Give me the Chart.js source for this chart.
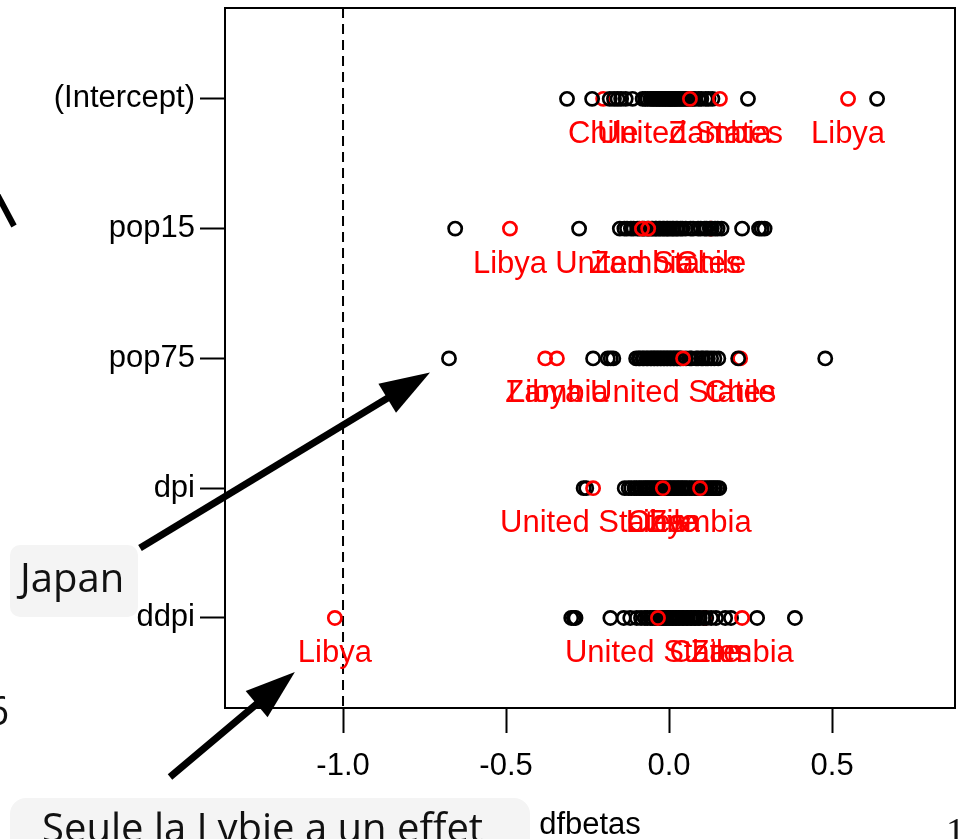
<!DOCTYPE html>
<html>
<head>
<meta charset="utf-8">
<title>dfbetas</title>
<script src="https://cdn.jsdelivr.net/npm/chart.js@4/dist/chart.umd.min.js"></script>
<style>
  html, body { margin: 0; padding: 0; background: #ffffff; }
  #wrap { width: 960px; height: 839px; position: relative; overflow: hidden; }
</style>
</head>
<body>
<div id="wrap"><canvas id="c" width="960" height="839"></canvas></div>
<script>
// Coefficients of the savings-rate model, top to bottom
const coefNames = ['(Intercept)', 'pop15', 'pop75', 'dpi', 'ddpi'];
const xTicks = [-1.0, -0.5, 0.0, 0.5];
const cutoff = -1.0;

// Highlighted countries (one value per coefficient, same order as coefNames)
const labelledCountries = ['Chile', 'United States', 'Zambia', 'Libya'];
const chileDfb  = [-0.202,  0.128,  0.218, -0.021,  0.110];
const usDfb     = [ 0.064, -0.064,  0.043, -0.233, -0.034];
const zambiaDfb = [ 0.156, -0.083, -0.344,  0.095,  0.224];
const libyaDfb  = [ 0.549, -0.488, -0.380, -0.019, -1.025];

// Japan stands out on pop75
const japanPop75 = -0.675;

// Remaining countries, per coefficient
const interceptOthers = [-0.313, -0.236, -0.182, -0.169, -0.158, -0.147, -0.133, -0.112, -0.081, -0.073,
  -0.066, -0.057, -0.052, -0.047, -0.040, -0.037, -0.030, -0.028, -0.021, -0.018, -0.012, -0.009,
  -0.003, 0.001, 0.004, 0.009, 0.011, 0.017, 0.021, 0.024, 0.031, 0.034, 0.041, 0.045, 0.053,
  0.057, 0.065, 0.072, 0.079, 0.091, 0.099, 0.112, 0.121, 0.133, 0.242, 0.638];
const pop15Others = [-0.656, -0.276, -0.151, -0.137, -0.129, -0.117, -0.109, -0.097, -0.091, -0.081,
  -0.076, -0.067, -0.062, -0.054, -0.050, -0.042, -0.039, -0.031, -0.027, -0.019, -0.015, -0.007,
  -0.004, 0.003, 0.010, 0.014, 0.022, 0.026, 0.035, 0.041, 0.051, 0.066, 0.074, 0.089, 0.097,
  0.109, 0.115, 0.125, 0.131, 0.141, 0.149, 0.161, 0.224, 0.276, 0.284, 0.293];
const pop75Others = [japanPop75, -0.233, -0.188, -0.179, -0.171, -0.101, -0.093, -0.089, -0.081, -0.077,
  -0.069, -0.065, -0.057, -0.054, -0.047, -0.044, -0.037, -0.034, -0.027, -0.024, -0.017, -0.014,
  -0.007, -0.004, 0.003, 0.006, 0.013, 0.016, 0.023, 0.026, 0.033, 0.036, 0.052, 0.064, 0.069,
  0.083, 0.089, 0.099, 0.104, 0.113, 0.119, 0.129, 0.139, 0.151, 0.212, 0.479];
const dpiOthers = [-0.262, -0.254, -0.136, -0.124, -0.116, -0.106, -0.100, -0.091, -0.086, -0.077,
  -0.073, -0.065, -0.061, -0.053, -0.049, -0.041, -0.037, -0.029, -0.025, -0.017, -0.013, -0.005,
  0.001, 0.005, 0.013, 0.017, 0.025, 0.029, 0.037, 0.041, 0.049, 0.054, 0.063, 0.069, 0.079,
  0.085, 0.095, 0.101, 0.111, 0.117, 0.125, 0.129, 0.137, 0.141, 0.149, 0.154];
const ddpiOthers = [-0.300, -0.292, -0.287, -0.180, -0.139, -0.119, -0.099, -0.086, -0.074, -0.067,
  -0.057, -0.051, -0.042, -0.038, -0.030, -0.027, -0.020, -0.017, -0.010, -0.007, 0.000, 0.003,
  0.010, 0.013, 0.020, 0.023, 0.030, 0.033, 0.041, 0.045, 0.053, 0.057, 0.065, 0.069, 0.077,
  0.081, 0.089, 0.094, 0.105, 0.114, 0.129, 0.144, 0.172, 0.190, 0.270, 0.386];

const othersByRow = [interceptOthers, pop15Others, pop75Others, dpiOthers, ddpiOthers];
const labelledByRow = [chileDfb, usDfb, zambiaDfb, libyaDfb];

const FONT = '"Liberation Sans", Arial, Helvetica, sans-serif';
const NOTE_FONT = '"Open Sans", "Noto Sans", sans-serif';
const RED = '#ff0000';

function rowPoints(values) { return values.map((v, row) => ({ x: v, y: row })); }

const blackPts = [];
othersByRow.forEach((vals, i) => vals.forEach(v => blackPts.push({ x: v, y: i })));
// Chile comes early in the data order, so the other points are drawn over it
const chilePts = rowPoints(chileDfb);
const laterRedPts = [].concat(rowPoints(usDfb), rowPoints(zambiaDfb), rowPoints(libyaDfb));

function drawArrow(ctx, x0, y0, x1, y1, lw, headLen, headHalf) {
  const dx = x1 - x0, dy = y1 - y0, len = Math.hypot(dx, dy);
  const ux = dx / len, uy = dy / len;
  const bx = x1 - ux * headLen, by = y1 - uy * headLen;
  ctx.save();
  ctx.strokeStyle = '#000'; ctx.fillStyle = '#000';
  ctx.lineWidth = lw; ctx.lineCap = 'butt';
  ctx.beginPath(); ctx.moveTo(x0, y0); ctx.lineTo(bx + ux * 4, by + uy * 4); ctx.stroke();
  ctx.beginPath();
  ctx.moveTo(x1, y1);
  ctx.lineTo(bx - uy * headHalf, by + ux * headHalf);
  ctx.lineTo(bx + uy * headHalf, by - ux * headHalf);
  ctx.closePath(); ctx.fill();
  ctx.restore();
}

function roundBox(ctx, x, y, w, h, r, fill) {
  ctx.save();
  ctx.fillStyle = fill;
  ctx.beginPath();
  ctx.roundRect(x, y, w, h, r);
  ctx.fill();
  ctx.restore();
}

const decorations = {
  id: 'decorations',
  beforeDatasetsDraw(chart) {
    const { ctx, chartArea: a, scales: { x } } = chart;
    const px = x.getPixelForValue(cutoff);
    ctx.save();
    ctx.strokeStyle = '#000';
    ctx.lineWidth = 2;
    ctx.setLineDash([10, 6]);
    ctx.beginPath(); ctx.moveTo(px, a.top); ctx.lineTo(px, a.bottom); ctx.stroke();
    ctx.restore();
  },
  afterDatasetsDraw(chart) {
    const { ctx, chartArea: a, scales: { x, y } } = chart;
    // country names under the highlighted points
    ctx.save();
    ctx.fillStyle = RED;
    ctx.font = '31px ' + FONT;
    ctx.textAlign = 'center';
    ctx.textBaseline = 'alphabetic';
    labelledByRow.forEach((arr, k) => {
      arr.forEach((v, row) => {
        ctx.fillText(labelledCountries[k], x.getPixelForValue(v), y.getPixelForValue(row) + 44);
      });
    });
    ctx.restore();
    // frame around the plotting region
    ctx.save();
    ctx.strokeStyle = '#000';
    ctx.lineWidth = 2;
    ctx.strokeRect(a.left, a.top, a.right - a.left, a.bottom - a.top);
    ctx.restore();
  },
  afterDraw(chart) {
    const { ctx, scales: { x, y } } = chart;
    // pointer towards Japan on pop75
    const jx = x.getPixelForValue(japanPop75), jy = y.getPixelForValue(2);
    drawArrow(ctx, 140, 548, jx - 19, jy + 14, 7, 50, 17);
    roundBox(ctx, 10, 545, 128, 72, 10, '#f4f4f4');
    ctx.save();
    ctx.fillStyle = '#111';
    ctx.font = '40px ' + NOTE_FONT;
    ctx.textBaseline = 'alphabetic';
    ctx.textAlign = 'left';
    ctx.fillText('Japan', 20, 592);
    ctx.restore();

    // pointer towards Libya on ddpi
    const lx = x.getPixelForValue(libyaDfb[4]), ly = y.getPixelForValue(4);
    drawArrow(ctx, 170, 777, lx - 40, ly + 54, 7, 50, 17);
    roundBox(ctx, 10, 798, 520, 70, 16, '#f4f4f4');
    ctx.save();
    ctx.fillStyle = '#111';
    ctx.font = '40px ' + NOTE_FONT;
    ctx.textBaseline = 'alphabetic';
    ctx.textAlign = 'left';
    ctx.fillText('Seule la Lybie a un effet', 42, 842);
    ctx.restore();

    // pieces of neighbouring content at the page edges
    ctx.save();
    ctx.strokeStyle = '#000';
    ctx.lineWidth = 6;
    ctx.beginPath(); ctx.moveTo(-4, 192); ctx.lineTo(14, 226); ctx.stroke();
    ctx.fillStyle = '#111';
    ctx.font = '40px ' + NOTE_FONT;
    ctx.textAlign = 'right';
    ctx.fillText('6', 9, 725);
    ctx.font = '38px "Liberation Serif", "DejaVu Serif", serif';
    ctx.textAlign = 'left';
    ctx.fillText('1', 946, 844);
    ctx.restore();
  }
};

const pointStyle = { pointRadius: 6.6, pointBorderWidth: 2.7, pointHoverRadius: 6.6, showLine: false,
  backgroundColor: 'rgba(0,0,0,0)', pointBackgroundColor: 'rgba(0,0,0,0)' };

new Chart(document.getElementById('c'), {
  type: 'scatter',
  data: {
    datasets: [
      Object.assign({ label: 'later', data: laterRedPts, borderColor: RED, pointBorderColor: RED, order: 0 }, pointStyle),
      Object.assign({ label: 'others', data: blackPts, borderColor: '#000', pointBorderColor: '#000', order: 1 }, pointStyle),
      Object.assign({ label: 'Chile', data: chilePts, borderColor: RED, pointBorderColor: RED, order: 2 }, pointStyle)
    ]
  },
  options: {
    responsive: false,
    animation: false,
    events: [],
    layout: { autoPadding: false, padding: { top: 8, right: 5, left: 0, bottom: 0 } },
    plugins: { legend: { display: false }, tooltip: { enabled: false } },
    scales: {
      x: {
        type: 'linear',
        min: -1.362, max: 0.877,
        afterBuildTicks: s => { s.ticks = xTicks.map(v => ({ value: v })); },
        afterFit: s => { s.height = 131; s.paddingLeft = 0; s.paddingRight = 0; },
        ticks: {
          autoSkip: false, maxRotation: 0, padding: 15, color: '#000',
          font: { family: FONT, size: 31 },
          callback: v => Number(v).toFixed(1)
        },
        grid: { drawOnChartArea: false, drawTicks: true, tickLength: 25, tickColor: '#000', tickWidth: 2 },
        border: { display: true, color: '#000', width: 2 },
        title: { display: true, text: 'dfbetas', color: '#000', font: { family: FONT, size: 31 }, padding: { top: 0, bottom: -5 } }
      },
      y: {
        type: 'linear',
        reverse: true,
        min: -0.7, max: 4.694,
        afterBuildTicks: s => { s.ticks = coefNames.map((_, i) => ({ value: i })); },
        afterFit: s => { s.width = 225; s.paddingTop = 0; s.paddingBottom = 0; },
        ticks: {
          autoSkip: false, padding: 5, color: '#000',
          font: { family: FONT, size: 31 },
          callback: v => coefNames[v]
        },
        grid: { drawOnChartArea: false, drawTicks: true, tickLength: 25, tickColor: '#000', tickWidth: 2 },
        border: { display: true, color: '#000', width: 2 }
      }
    }
  },
  plugins: [decorations]
});
</script>
</body>
</html>
